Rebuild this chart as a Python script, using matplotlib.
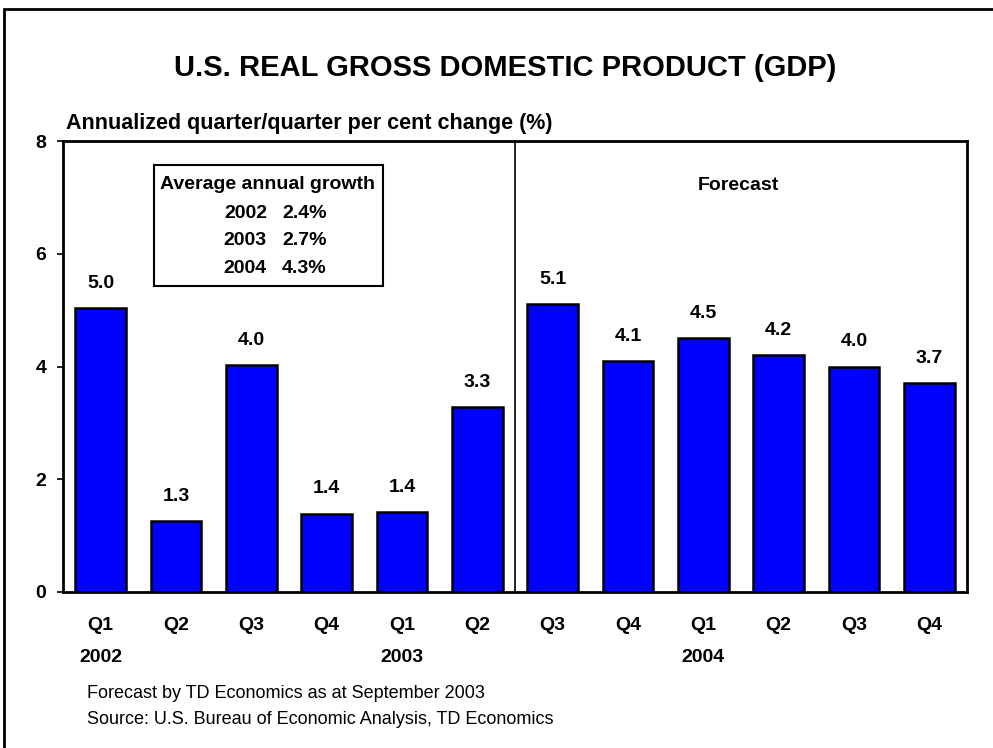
import numpy as np
import matplotlib.pyplot as plt
from matplotlib.patches import Rectangle

plt.rcParams['font.family'] = ['Liberation Sans', 'DejaVu Sans']

quarters = ['Q1', 'Q2', 'Q3', 'Q4', 'Q1', 'Q2', 'Q3', 'Q4', 'Q1', 'Q2', 'Q3', 'Q4']
years = {0: '2002', 4: '2003', 8: '2004'}
growth = [5.04, 1.26, 4.03, 1.39, 1.42, 3.28, 5.1, 4.1, 4.5, 4.2, 4.0, 3.7]
avg_years = ['2002', '2003', '2004']
avg_growth = [2.4, 2.7, 4.3]
forecast_start = 6

W, H = 993, 748
L, R, T, B = 63, 967, 141, 592
fig = plt.figure(figsize=(W / 100, H / 100), dpi=100)
ax = fig.add_axes([L / W, 1 - B / H, (R - L) / W, (B - T) / H])

# pixel -> data helpers (only for placing annotations)
px = lambda xp: (xp - L) / ((R - L) / 12) - 0.5
py = lambda yp: (B - yp) / ((B - T) / 8)

x = np.arange(len(growth))
ax.bar(x, growth, width=0.67, color='#0000FF', edgecolor='black', linewidth=1.8, zorder=2)
for i, v in enumerate(growth):
    ax.text(i, v + 0.44, f'{v:.1f}', ha='center', va='center', fontsize=14, fontweight='bold')

ax.set_xlim(-0.5, len(growth) - 0.5)
ax.set_ylim(0, 8)
ax.set_yticks([0, 2, 4, 6, 8])
ax.set_yticklabels(['0', '2', '4', '6', '8'], fontsize=14, fontweight='bold')
ax.tick_params(axis='y', direction='out', length=4, width=1.2, pad=8)
ax.set_xticks(x)
ax.set_xticklabels(quarters, fontsize=14, fontweight='bold')
ax.tick_params(axis='x', length=0, pad=18)
for s in ax.spines.values():
    s.set_linewidth(2)

for i, yr in years.items():
    ax.text(i, py(657), yr, ha='center', va='center', fontsize=14, fontweight='bold', clip_on=False)

ax.axvline(forecast_start - 0.5, color='black', linewidth=1.2)
ax.text(px(738), py(185), 'Forecast', ha='center', va='center', fontsize=14, fontweight='bold')

# average annual growth box
ax.add_patch(Rectangle((px(154), py(286)), px(383) - px(154), py(165) - py(286),
                       fill=False, edgecolor='black', linewidth=1.5, zorder=3))
ax.text(px(268), py(184), 'Average annual growth', ha='center', va='center',
        fontsize=14, fontweight='bold')
for k, (yr, g) in enumerate(zip(avg_years, avg_growth)):
    yy = py(213 + 27.5 * k)
    ax.text(px(267), yy, yr, ha='right', va='center', fontsize=14, fontweight='bold')
    ax.text(px(282), yy, f'{g:.1f}%', ha='left', va='center', fontsize=14, fontweight='bold')

fig.text(505 / W, 1 - 68 / H, 'U.S. REAL GROSS DOMESTIC PRODUCT (GDP)', ha='center', va='center',
         fontsize=21, fontweight='bold')
fig.text(66 / W, 1 - 124 / H, 'Annualized quarter/quarter per cent change (%)', ha='left', va='center',
         fontsize=15.5, fontweight='bold')
fig.text(87 / W, 1 - 693 / H, 'Forecast by TD Economics as at September 2003', ha='left', va='center',
         fontsize=13)
fig.text(87 / W, 1 - 719 / H, 'Source: U.S. Bureau of Economic Analysis, TD Economics', ha='left', va='center',
         fontsize=13)

# outer frame
fig.add_artist(Rectangle((4 / W, -0.05), 1.1, 1.05 - 9 / H, transform=fig.transFigure, fill=False,
                         edgecolor='black', linewidth=2))

fig.savefig('out.png', dpi=100)
